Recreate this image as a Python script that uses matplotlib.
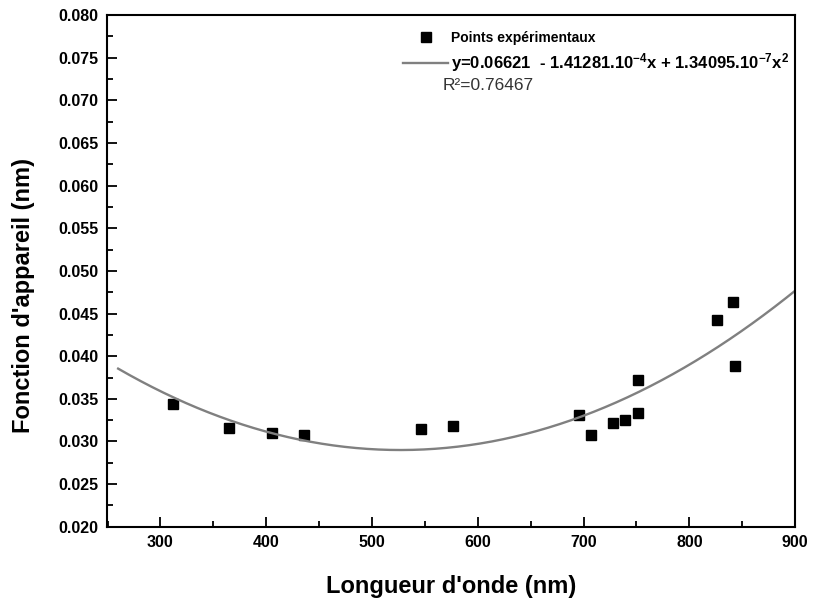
import numpy as np
import matplotlib.pyplot as plt
from matplotlib.ticker import MultipleLocator

plt.rcParams['font.family'] = ['Liberation Sans', 'DejaVu Sans']
plt.rcParams['mathtext.default'] = 'regular'

wavelength = [312, 365, 405, 436, 546, 577, 696, 707, 728, 739, 751, 751, 826, 841, 843]
app_func = [0.0344, 0.0316, 0.0310, 0.0307, 0.0315, 0.0318, 0.0331, 0.0308, 0.0322, 0.0325,
            0.0372, 0.0333, 0.0443, 0.0464, 0.0389]

# quadratic fit given in the legend: y = c0 + c1*x + c2*x^2
fit_coefs = [0.06621, -1.41281e-4, 1.34095e-7]
fit_range = [260, 900]

fig = plt.figure(figsize=(8.13, 6.02), dpi=100)
ax = fig.add_axes([0.131, 0.125, 0.847, 0.85])

xs = np.linspace(fit_range[0], fit_range[1], 300)
ys = np.polyval(fit_coefs[::-1], xs)

pts, = ax.plot(wavelength, app_func, 's', color='black', markersize=7.5, linestyle='none',
               label='Points expérimentaux')
fit, = ax.plot(xs, ys, color='#808080', linewidth=1.7,
               label='y=0.06621  - 1.41281.10$^{-4}$x + 1.34095.10$^{-7}$x$^{2}$')

ax.set_xlim(249, 900)
ax.set_ylim(0.020, 0.080)
ax.xaxis.set_major_locator(MultipleLocator(100))
ax.xaxis.set_minor_locator(MultipleLocator(50))
ax.yaxis.set_major_locator(MultipleLocator(0.005))
ax.yaxis.set_minor_locator(MultipleLocator(0.0025))
ax.yaxis.set_major_formatter(plt.FormatStrFormatter('%.3f'))

ax.tick_params(which='major', direction='in', length=7, width=1.3, labelsize=11.5, pad=6)
ax.tick_params(which='minor', direction='in', length=4, width=1.3)
for lab in ax.get_xticklabels() + ax.get_yticklabels():
    lab.set_fontweight('bold')
for sp in ax.spines.values():
    sp.set_linewidth(1.5)

ax.set_xlabel("Longueur d'onde (nm)", fontsize=17, fontweight='bold', va='center')
ax.set_ylabel("Fonction d'appareil (nm)", fontsize=17, fontweight='bold', va='center')
ax.xaxis.set_label_coords(0.501, -0.117)
ax.yaxis.set_label_coords(-0.121, 0.451)

leg = ax.legend(handles=[pts, fit], loc='upper left', bbox_to_anchor=(0.413, 0.994),
                frameon=False, handlelength=3.2, handletextpad=0.25,
                labelspacing=0.45, prop={'weight': 'bold', 'size': 10})
leg.get_texts()[1].set_fontsize(12)
ax.text(0.488, 0.863, 'R²=0.76467', transform=ax.transAxes, fontsize=12.5,
        color='#333333', va='center')

fig.savefig('out.png', dpi=100)
